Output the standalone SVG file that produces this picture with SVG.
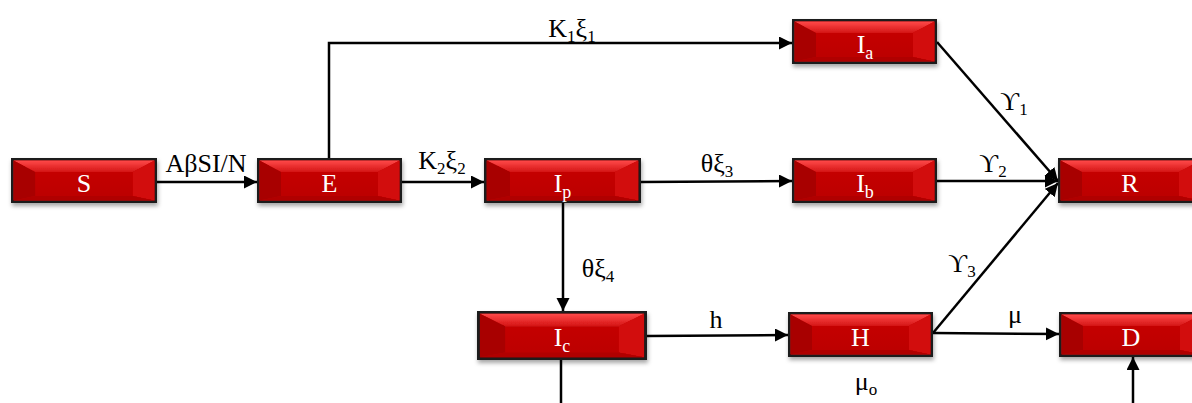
<svg xmlns="http://www.w3.org/2000/svg" xmlns:xlink="http://www.w3.org/1999/xlink" width="1192" height="403" viewBox="0 0 1192 403">
<style>
  .nodetext { font-family: "Liberation Serif", "Times New Roman", serif; font-size: 26px; fill: #ffffff; text-anchor: middle; }
  .sub { font-size: 18px; }
  .lbl { font-family: "Liberation Serif", "Times New Roman", "DejaVu Serif", serif; font-size: 26px; fill: #000000; text-anchor: middle; }
  .lsub { font-size: 17px; }
  .conn { fill: none; stroke: #000000; stroke-width: 2.5; }
  .arrow { marker-end: url(#ah); }
</style>
<defs>
  <marker id="ah" markerUnits="userSpaceOnUse" markerWidth="14" markerHeight="14" refX="13" refY="6.5" orient="auto" viewBox="0 0 14 14">
    <path d="M0,0 L13,6.5 L0,13 z" fill="#000000"/>
  </marker>
  <linearGradient id="topg" x1="0" y1="0" x2="0" y2="1">
    <stop offset="0" stop-color="#ff4a4a"/>
    <stop offset="1" stop-color="#d41414"/>
  </linearGradient>
  <linearGradient id="faceg" x1="0" y1="0" x2="0" y2="1">
    <stop offset="0" stop-color="#c80606"/>
    <stop offset="1" stop-color="#bb0000"/>
  </linearGradient>
  <filter id="shadow" x="-10%" y="-20%" width="120%" height="160%">
    <feDropShadow dx="1" dy="3" stdDeviation="2" flood-color="#000000" flood-opacity="0.35"/>
  </filter>
  <symbol id="box" viewBox="0 0 145 45" preserveAspectRatio="none">
    <rect x="0" y="0" width="145" height="45" fill="#1c1c1c"/>
    <rect x="2.5" y="2.5" width="140" height="40" fill="url(#faceg)"/>
    <polygon points="2.5,2.5 142.5,2.5 121,14 24,14" fill="url(#topg)"/>
    <polygon points="2.5,2.5 24,14 24,38 2.5,42.5" fill="#a80000"/>
    <polygon points="142.5,2.5 121,14 121,38 142.5,42.5" fill="#d20c0c"/>
    <polygon points="2.5,42.5 24,38 121,38 142.5,42.5" fill="#b00000"/>
  </symbol>
</defs>

<g id="connectors">
  <line class="conn arrow" x1="157" y1="182" x2="257" y2="182"/>
  <path class="conn arrow" d="M329,158 V43 H792"/>
  <line class="conn arrow" x1="402" y1="182" x2="484" y2="182"/>
  <line class="conn arrow" x1="641" y1="182" x2="792" y2="181"/>
  <line class="conn arrow" x1="563" y1="203" x2="563" y2="311"/>
  <line class="conn arrow" x1="647" y1="336" x2="788" y2="335"/>
  <line class="conn arrow" x1="937" y1="42" x2="1058" y2="181"/>
  <line class="conn arrow" x1="937" y1="181" x2="1058" y2="181"/>
  <line class="conn arrow" x1="933" y1="333" x2="1058" y2="183"/>
  <line class="conn arrow" x1="933" y1="333" x2="1059" y2="334"/>
  <line class="conn" x1="561" y1="360" x2="561" y2="403"/>
  <line class="conn arrow" x1="1133" y1="403" x2="1133" y2="357"/>
</g>

<g id="labels">
  <text class="lbl" x="206" y="172">AβSI/N</text>
  <text class="lbl" x="572" y="37">K<tspan class="lsub" dy="5">1</tspan><tspan dy="-5">ξ</tspan><tspan class="lsub" dy="5">1</tspan></text>
  <text class="lbl" x="442" y="169">K<tspan class="lsub" dy="5">2</tspan><tspan dy="-5">ξ</tspan><tspan class="lsub" dy="5">2</tspan></text>
  <text class="lbl" x="717" y="172">θξ<tspan class="lsub" dy="5">3</tspan></text>
  <text class="lbl" x="598" y="277">θξ<tspan class="lsub" dy="5">4</tspan></text>
  <text class="lbl" x="716" y="328">h</text>
  <text class="lbl" x="1014" y="110">ϒ<tspan class="lsub" dy="5">1</tspan></text>
  <text class="lbl" x="993" y="172">ϒ<tspan class="lsub" dy="5">2</tspan></text>
  <text class="lbl" x="962" y="272">ϒ<tspan class="lsub" dy="5">3</tspan></text>
  <text class="lbl" x="1015" y="323">μ</text>
  <text class="lbl" x="866" y="390">μ<tspan class="lsub" dy="5">o</tspan></text>
</g>

<g id="node-S">
  <use xlink:href="#box" href="#box" x="11" y="158" width="146" height="45" filter="url(#shadow)"/>
  <text class="nodetext" x="84" y="192">S</text>
</g>
<g id="node-E">
  <use xlink:href="#box" href="#box" x="257" y="158" width="145" height="45" filter="url(#shadow)"/>
  <text class="nodetext" x="329.5" y="192">E</text>
</g>
<g id="node-Ip">
  <use xlink:href="#box" href="#box" x="484" y="158" width="157" height="45" filter="url(#shadow)"/>
  <text class="nodetext" x="562.5" y="192">I<tspan class="sub" dy="6">p</tspan></text>
</g>
<g id="node-Ia">
  <use xlink:href="#box" href="#box" x="792" y="19" width="145" height="45" filter="url(#shadow)"/>
  <text class="nodetext" x="865" y="53">I<tspan class="sub" dy="6">a</tspan></text>
</g>
<g id="node-Ib">
  <use xlink:href="#box" href="#box" x="792" y="158" width="145" height="45" filter="url(#shadow)"/>
  <text class="nodetext" x="865" y="192">I<tspan class="sub" dy="6">b</tspan></text>
</g>
<g id="node-R">
  <use xlink:href="#box" href="#box" x="1058" y="158" width="145" height="45" filter="url(#shadow)"/>
  <text class="nodetext" x="1130" y="192">R</text>
</g>
<g id="node-Ic">
  <use xlink:href="#box" href="#box" x="477" y="311" width="170" height="49" filter="url(#shadow)"/>
  <text class="nodetext" x="562" y="346">I<tspan class="sub" dy="6">c</tspan></text>
</g>
<g id="node-H">
  <use xlink:href="#box" href="#box" x="788" y="312" width="145" height="45" filter="url(#shadow)"/>
  <text class="nodetext" x="860.5" y="346">H</text>
</g>
<g id="node-D">
  <use xlink:href="#box" href="#box" x="1059" y="312" width="145" height="45" filter="url(#shadow)"/>
  <text class="nodetext" x="1131" y="346">D</text>
</g>
</svg>
